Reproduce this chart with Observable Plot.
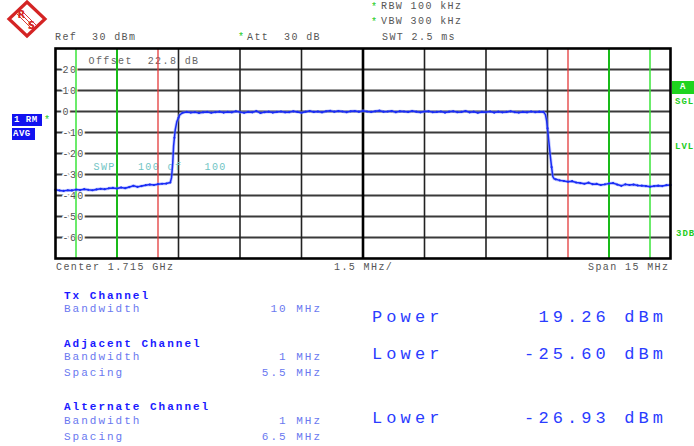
<!DOCTYPE html>
<html>
<head>
<meta charset="utf-8">
<script src="https://cdn.jsdelivr.net/npm/d3@7"></script>
<script src="https://cdn.jsdelivr.net/npm/@observablehq/plot@0.6"></script>
<style>
  html, body { margin: 0; padding: 0; background: #fff; }
  #page { position: relative; width: 694px; height: 446px; overflow: hidden; background: #fff; }
  #page svg.plot { position: absolute; left: 0; top: 0; }
  #page svg text { white-space: pre; letter-spacing: 1.4px; }
</style>
</head>
<body>
<div id="page"></div>
<script>
// ---- data ----
// trace: levels (dBm) at -7.5 .. +7.5 MHz offset from centre, 0.1 MHz steps
const traceLevel = [
  -37.3, -37.6, -37.8, -37.5, -37.6, -37.2, -37.4, -37.0, -37.3, -37.5,
  -37.1, -36.8, -37.0, -36.6, -36.4, -36.7, -36.2, -36.5, -36.0, -35.4,
  -35.9, -35.5, -35.1, -34.8, -35.0, -34.6, -34.4, -34.3, -33.8, -12.5,
  -3.0, -0.6, -0.2,
  -0.5, -0.3, -0.7, -0.4, -0.2, -0.6, -0.3, -0.1, -0.5, -0.2,
  -0.4, 0.1, -0.3, -0.6, -0.2, -0.4, 0.2, -0.7, -0.3, -0.1,
  -0.5, -0.2, 0.0, -0.4, -0.3, 0.1, -0.2, -0.6, -0.1, 0.2,
  -0.2, 0.0, -0.4, 0.1, 0.3, -0.1, 0.2, 0.0, -0.3, 0.1,
  0.2, -0.1, 0.3, 0.0, -0.2, 0.1, 0.4, -0.1, 0.0, 0.2,
  -0.3, 0.1, 0.0, -0.2, 0.2, -0.1, -0.4, 0.0, 0.1, -0.3,
  -0.2, 0.0, -0.5, -0.1, 0.1, -0.3, -0.2, 0.2, -0.4, -0.1,
  -0.6, -0.2, -0.3, 0.0, -0.5, -0.1, -0.4, -0.2, 0.1, -0.3,
  -0.5, -0.2, -0.4, 0.0, -0.3, -0.1, -0.2,
  -8.0, -26.5, -32.3, -32.8, -33.1, -33.4, -33.2, -33.8, -34.1, -34.4,
  -33.9, -34.6, -34.5, -35.0, -34.7, -34.3, -34.1, -34.8, -35.4, -34.7,
  -35.0, -34.8, -35.2, -35.3, -35.5, -35.8, -35.5, -35.3, -35.5, -35.1,
  -35.0
];
// extra points on the steep edges
const edgeFreq  = [-4.67, -4.64, -4.62, -4.58, -4.54, -4.47, 4.45, 4.48, 4.53, 4.57, 4.63, 4.66];
const edgeLevel = [-31.5, -24.5, -16.5, -8.8, -4.8, -1.6, -1.5, -4.5, -13.8, -21.5, -31.0, -32.0];

const xGrid = [-6, -4.5, -3, -1.5, 0, 1.5, 3, 4.5, 6];
const yGrid = [20, 10, 0, -10, -20, -30, -40, -50, -60];
const yTickLabels = ["20", "10", "0", "-10", "-20", "-30", "-40", "-50", "-60"];
const txEdges = [-5, 5];
const adjEdges = [-6, 6];
const altEdges = [-7, 7];

const headerTexts = ["Ref  30 dBm", "Att  30 dB", "RBW 100 kHz", "VBW 300 kHz", "SWT 2.5 ms"];
const axisTexts = ["Center 1.715 GHz", "1.5 MHz/", "Span 15 MHz"];
const innerTexts = ["Offset  22.8 dB", "SWP   100 of   100"];
const channelNames = ["Tx Channel", "Adjacent Channel", "Alternate Channel"];
const paramNames = ["Bandwidth", "Bandwidth", "Spacing", "Bandwidth", "Spacing"];
const paramValues = ["10 MHz", "1 MHz", "5.5 MHz", "1 MHz", "6.5 MHz"];
const resultNames = ["Power", "Lower", "Lower"];
const resultValues = ["19.26 dBm", "-25.60 dBm", "-26.93 dBm"];

// ---- build ----
const FONT = '"Liberation Mono", "DejaVu Sans Mono", monospace';
const W = 694;
const page = document.getElementById("page");

const trace = traceLevel.map((v, i) => ({f: -7.5 + i * 0.1, v}));
const traceAll = trace.concat(edgeFreq.map((f, i) => ({f, v: edgeLevel[i]}))).sort((a, b) => a.f - b.f);
const yLab = yGrid.map((v, i) => ({v, t: yTickLabels[i]}));

const chart = Plot.plot({
  width: W, height: 446,
  marginLeft: 55, marginRight: 24, marginTop: 48, marginBottom: 188,
  x: {domain: [-7.5, 7.5], axis: null},
  y: {domain: [-70, 30], axis: null},
  style: {background: "transparent", overflow: "visible"},
  marks: [
    Plot.ruleY(yGrid, {stroke: "#3a3a3a", strokeWidth: 1.8}),
    Plot.ruleX(xGrid, {stroke: "#222", strokeWidth: 1.6}),
    Plot.ruleX([0], {stroke: "#000", strokeWidth: 2.6}),
    Plot.text(yLab, {x: -7.5, y: "v", text: "t", dx: 7, textAnchor: "start", fill: "#555",
      stroke: "white", strokeWidth: 4, fontFamily: FONT, fontSize: 10}),
    Plot.text([innerTexts[0]], {frameAnchor: "top-left", dx: 33, dy: 8, textAnchor: "start",
      fill: "#666", fontFamily: FONT, fontSize: 10}),
    Plot.text([innerTexts[1]], {frameAnchor: "top-left", dx: 38, dy: 114, textAnchor: "start",
      fill: "#6fc4c4", fontFamily: FONT, fontSize: 10}),
    Plot.ruleX(txEdges, {stroke: "#e43a3a", strokeWidth: 1.3}),
    Plot.ruleX(adjEdges, {stroke: "#14c814", strokeWidth: 1.8}),
    Plot.ruleX(altEdges, {stroke: "#3ae43a", strokeWidth: 1.5}),
    Plot.line(traceAll, {x: "f", y: "v", stroke: "#8c9cff", strokeWidth: 3.2, strokeOpacity: 0.5}),
    Plot.line(traceAll, {x: "f", y: "v", stroke: "#1a2cf5", strokeWidth: 1.5}),
    Plot.dot(trace, {x: "f", y: "v", r: 1.1, fill: "#1a2cf5"}),
    Plot.frame({stroke: "#000", strokeWidth: 2.6})
  ]
});
page.appendChild(chart);

function addText(str, x, y, o = {}) {
  const size = o.size || 10, ls = (o.ls !== undefined) ? o.ls : 1.4;
  const d = document.createElement("div");
  d.textContent = str;
  d.style.cssText = `position:absolute;white-space:pre;font-family:${FONT};font-size:${size}px;` +
    `letter-spacing:${ls}px;color:${o.color || "#555"};font-weight:${o.weight || "normal"};line-height:1;`;
  d.style.top = (y - size * 0.48) + "px";
  if (o.anchor === "end") d.style.right = (W - x - ls) + "px";
  else d.style.left = x + "px";
  page.appendChild(d);
  return d;
}
function addBox(str, x, y, w, h, bg, o = {}) {
  const d = document.createElement("div");
  d.textContent = str;
  d.style.cssText = `position:absolute;left:${x}px;top:${y}px;width:${w}px;height:${h}px;background:${bg};` +
    `color:#fff;font-family:${FONT};font-size:${o.size || 9}px;font-weight:bold;line-height:${h}px;` +
    `white-space:pre;overflow:hidden;text-align:${o.align || "left"};padding-left:${o.pad || 0}px;box-sizing:border-box;letter-spacing:${o.ls || 0.5}px;`;
  page.appendChild(d);
}

// logo
const logo = document.createElementNS("http://www.w3.org/2000/svg", "svg");
logo.setAttribute("width", 42); logo.setAttribute("height", 40);
logo.style.cssText = "position:absolute;left:6px;top:0px";
logo.innerHTML = `
  <polygon points="21,2 39,19 21,36 3,19" fill="#fff" stroke="#d42424" stroke-width="3.2"/>
  <g stroke="#d42424" stroke-width="0.9">
    <line x1="11" y1="14" x2="26" y2="29"/><line x1="13" y1="12" x2="28" y2="27"/>
    <line x1="15" y1="10" x2="30" y2="25"/>
  </g>
  <text x="16" y="18" font-family="DejaVu Sans" font-weight="bold" font-size="10" fill="#d42424" text-anchor="middle">R</text>
  <text x="26" y="29" font-family="DejaVu Sans" font-weight="bold" font-size="10" fill="#d42424" text-anchor="middle">S</text>`;
page.appendChild(logo);

// header
const G = "#22cc22";
addText(headerTexts[0], 55, 38);
addText("*", 238, 38, {color: G});
addText(headerTexts[1], 247, 38);
addText("*", 371, 8, {color: G});
addText(headerTexts[2], 381, 7);
addText("*", 371, 23, {color: G});
addText(headerTexts[3], 381, 22);
addText(headerTexts[4], 382, 38);

// left status boxes
addBox("1 RM", 12, 114, 30, 12, "#1212f0", {pad: 2});
addBox("AVG", 12, 128, 23, 12, "#1212f0", {pad: 1});
addText("*", 44, 121, {color: G, size: 10});

// right status
addBox("A", 672, 81, 22, 13, "#1ed41e", {align: "center"});
addText("SGL", 675, 102, {color: G, weight: "bold", size: 9, ls: 1});
addText("LVL", 675, 147, {color: G, weight: "bold", size: 9, ls: 1});
addText("3DB", 676, 234, {color: G, weight: "bold", size: 9, ls: 1});

// axis texts
addText(axisTexts[0], 56, 268);
addText(axisTexts[1], 334, 268);
addText(axisTexts[2], 668, 268, {anchor: "end"});

// channel table
const BL = "#1a1aff", LB = "#6a78f0";
const tbl = {size: 11, ls: 2};
addText(channelNames[0], 64, 296, {...tbl, color: BL, weight: "bold"});
addText(paramNames[0], 64, 309, {...tbl, color: LB});
addText(paramValues[0], 320, 309, {...tbl, color: LB, anchor: "end"});
addText(channelNames[1], 64, 344, {...tbl, color: BL, weight: "bold"});
addText(paramNames[1], 64, 357, {...tbl, color: LB});
addText(paramValues[1], 320, 357, {...tbl, color: LB, anchor: "end"});
addText(paramNames[2], 64, 373, {...tbl, color: LB});
addText(paramValues[2], 320, 373, {...tbl, color: LB, anchor: "end"});
addText(channelNames[2], 64, 407, {...tbl, color: BL, weight: "bold"});
addText(paramNames[3], 64, 421, {...tbl, color: LB});
addText(paramValues[3], 320, 421, {...tbl, color: LB, anchor: "end"});
addText(paramNames[4], 64, 437, {...tbl, color: LB});
addText(paramValues[4], 320, 437, {...tbl, color: LB, anchor: "end"});

// results
const big = {size: 17, ls: 4.1, color: "#2a3cff"};
const ry = [317, 354, 418];
resultNames.forEach((n, i) => {
  addText(n, 372, ry[i], big);
  addText(resultValues[i], 663, ry[i], {...big, anchor: "end"});
});
</script>
</body>
</html>
